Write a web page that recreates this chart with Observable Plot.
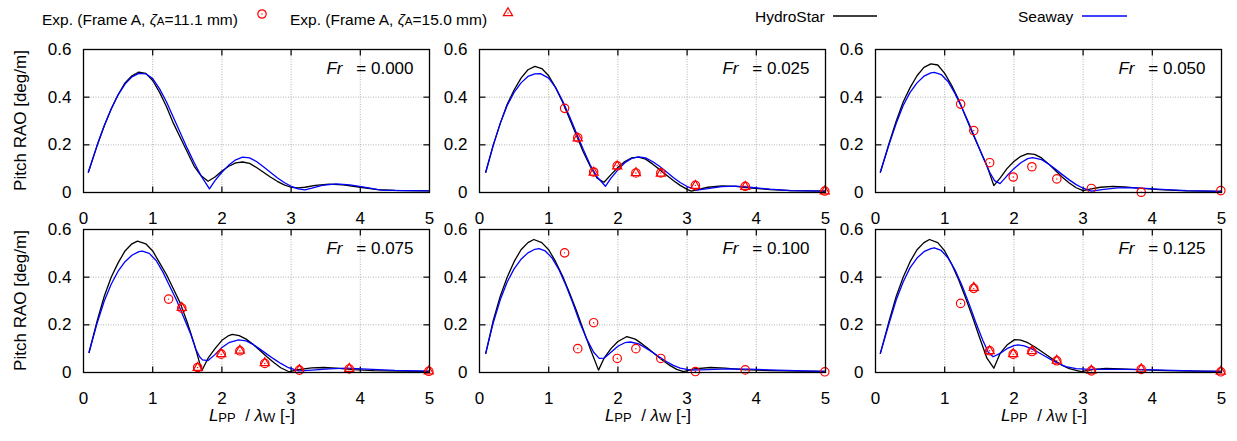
<!DOCTYPE html>
<html><head><meta charset="utf-8">
<script src="https://cdn.jsdelivr.net/npm/d3@7"></script>
<script src="https://cdn.jsdelivr.net/npm/@observablehq/plot@0.6"></script>
<style>
body{margin:0;background:#fff;}
#wrap{position:relative;width:1237px;height:441px;background:#fff;}
#legend{position:absolute;left:0;top:0;}
#chart{position:absolute;left:0;top:35px;}
</style></head>
<body><div id="wrap"><div id="legend"></div><div id="chart"></div></div>
<script>
const FONT = '"Liberation Sans", Arial, sans-serif';
const frNumbers = ["0.000","0.025","0.050","0.075","0.100","0.125"];
const seriesNames = ["HydroStar","Seaway"];
const seriesColors = ["#000000","#0000ff"];
const expNames = ["11.1","15.0"];
const xTicks = [0,1,2,3,4,5];
const yTicks = [0,0.2,0.4,0.6];
const gridXTicks = [1,2,3,4];
const gridYTicks = [0.2,0.4];
const yTitle = "Pitch RAO [deg/m]";

// HydroStar pitch RAO, [Lpp/lambda, deg/m]
const hydroStar000 = [[0.07,0.085],[0.2,0.2],[0.3,0.28],[0.4,0.35],[0.5,0.41],[0.6,0.46],[0.7,0.49],[0.8,0.505],[0.9,0.5],[1.0,0.47],[1.1,0.42],[1.2,0.36],[1.3,0.29],[1.4,0.23],[1.5,0.17],[1.6,0.11],[1.7,0.07],[1.8,0.047],[1.9,0.065],[2.0,0.09],[2.1,0.11],[2.2,0.124],[2.3,0.128],[2.4,0.122],[2.5,0.105],[2.6,0.085],[2.7,0.065],[2.8,0.047],[2.9,0.032],[3.0,0.022],[3.1,0.019],[3.2,0.022],[3.35,0.03],[3.55,0.035],[3.75,0.032],[4.0,0.022],[4.25,0.012],[4.5,0.009],[4.75,0.008],[5.0,0.007]];
const hydroStar025 = [[0.09,0.085],[0.2,0.2],[0.3,0.29],[0.4,0.37],[0.5,0.43],[0.6,0.48],[0.7,0.515],[0.8,0.529],[0.9,0.52],[1.0,0.49],[1.1,0.44],[1.2,0.38],[1.3,0.31],[1.4,0.24],[1.5,0.17],[1.6,0.11],[1.7,0.06],[1.8,0.043],[1.9,0.075],[2.0,0.105],[2.1,0.13],[2.2,0.145],[2.3,0.148],[2.4,0.14],[2.5,0.12],[2.6,0.097],[2.7,0.073],[2.8,0.05],[2.9,0.03],[3.0,0.013],[3.06,0.006],[3.15,0.012],[3.3,0.022],[3.5,0.028],[3.7,0.026],[3.9,0.02],[4.2,0.012],[4.5,0.008],[5.0,0.006]];
const hydroStar050 = [[0.07,0.085],[0.2,0.21],[0.3,0.3],[0.4,0.38],[0.5,0.44],[0.6,0.49],[0.7,0.525],[0.8,0.54],[0.9,0.535],[1.0,0.5],[1.1,0.45],[1.2,0.39],[1.3,0.32],[1.4,0.25],[1.5,0.185],[1.6,0.12],[1.71,0.029],[1.8,0.06],[1.9,0.1],[2.0,0.13],[2.1,0.152],[2.2,0.163],[2.3,0.16],[2.4,0.145],[2.5,0.12],[2.6,0.092],[2.7,0.064],[2.8,0.04],[2.9,0.02],[3.0,0.008],[3.1,0.014],[3.25,0.022],[3.43,0.026],[3.6,0.024],[3.8,0.018],[4.1,0.012],[4.5,0.007],[5.0,0.005]];
const hydroStar075 = [[0.08,0.084],[0.2,0.22],[0.3,0.32],[0.4,0.4],[0.5,0.46],[0.6,0.51],[0.7,0.54],[0.78,0.551],[0.9,0.54],[1.0,0.51],[1.1,0.46],[1.2,0.41],[1.3,0.35],[1.4,0.29],[1.5,0.21],[1.6,0.12],[1.71,0.007],[1.8,0.06],[1.9,0.1],[2.0,0.135],[2.1,0.155],[2.15,0.16],[2.25,0.155],[2.35,0.14],[2.45,0.118],[2.55,0.092],[2.65,0.066],[2.75,0.042],[2.85,0.02],[2.97,0.003],[3.1,0.012],[3.3,0.019],[3.47,0.021],[3.65,0.018],[3.9,0.012],[4.2,0.008],[4.6,0.006],[5.0,0.005]];
const hydroStar100 = [[0.09,0.08],[0.2,0.22],[0.3,0.32],[0.4,0.4],[0.5,0.465],[0.6,0.515],[0.7,0.545],[0.785,0.558],[0.9,0.545],[1.0,0.515],[1.1,0.465],[1.2,0.405],[1.3,0.335],[1.4,0.26],[1.5,0.18],[1.6,0.1],[1.72,0.01],[1.8,0.06],[1.9,0.1],[2.0,0.13],[2.13,0.151],[2.25,0.14],[2.35,0.12],[2.45,0.097],[2.55,0.073],[2.65,0.05],[2.75,0.03],[2.85,0.013],[2.95,0.004],[3.1,0.015],[3.34,0.021],[3.55,0.018],[3.8,0.012],[4.2,0.008],[4.6,0.006],[5.0,0.005]];
const hydroStar125 = [[0.07,0.08],[0.2,0.22],[0.3,0.32],[0.4,0.4],[0.5,0.465],[0.6,0.515],[0.7,0.545],[0.78,0.558],[0.9,0.545],[1.0,0.51],[1.1,0.455],[1.2,0.39],[1.3,0.315],[1.4,0.235],[1.5,0.15],[1.61,0.06],[1.71,0.018],[1.8,0.08],[1.9,0.115],[2.01,0.138],[2.1,0.136],[2.2,0.125],[2.3,0.108],[2.4,0.088],[2.5,0.068],[2.6,0.048],[2.7,0.03],[2.8,0.016],[2.97,0.004],[3.15,0.013],[3.33,0.017],[3.55,0.015],[3.8,0.012],[4.2,0.008],[4.6,0.006],[5.0,0.005]];

// Seaway pitch RAO
const seaway000 = [[0.07,0.085],[0.2,0.2],[0.3,0.28],[0.4,0.35],[0.5,0.41],[0.6,0.455],[0.7,0.485],[0.8,0.5],[0.9,0.498],[1.0,0.478],[1.1,0.435],[1.2,0.38],[1.3,0.315],[1.4,0.25],[1.5,0.185],[1.6,0.125],[1.7,0.07],[1.82,0.015],[1.9,0.05],[2.0,0.085],[2.1,0.115],[2.2,0.137],[2.3,0.148],[2.4,0.145],[2.5,0.13],[2.6,0.108],[2.7,0.085],[2.8,0.062],[2.9,0.042],[3.0,0.026],[3.1,0.015],[3.2,0.011],[3.3,0.018],[3.45,0.03],[3.65,0.036],[3.85,0.032],[4.1,0.02],[4.3,0.01],[4.6,0.008],[5.0,0.007]];
const seaway025 = [[0.09,0.085],[0.2,0.2],[0.3,0.29],[0.4,0.365],[0.5,0.42],[0.6,0.46],[0.7,0.487],[0.8,0.498],[0.88,0.499],[1.0,0.48],[1.1,0.44],[1.2,0.385],[1.3,0.32],[1.4,0.25],[1.5,0.18],[1.6,0.115],[1.7,0.065],[1.82,0.026],[1.9,0.06],[2.0,0.095],[2.1,0.125],[2.2,0.143],[2.3,0.149],[2.4,0.145],[2.5,0.13],[2.6,0.11],[2.7,0.087],[2.8,0.063],[2.9,0.042],[3.0,0.025],[3.14,0.01],[3.3,0.016],[3.5,0.025],[3.7,0.027],[3.9,0.022],[4.2,0.014],[4.5,0.008],[5.0,0.006]];
const seaway050 = [[0.07,0.085],[0.2,0.205],[0.3,0.29],[0.4,0.365],[0.5,0.42],[0.6,0.46],[0.7,0.488],[0.8,0.502],[0.85,0.504],[0.95,0.495],[1.05,0.465],[1.15,0.415],[1.25,0.355],[1.35,0.29],[1.45,0.22],[1.55,0.15],[1.65,0.085],[1.72,0.05],[1.8,0.0375],[1.9,0.07],[2.0,0.1],[2.1,0.125],[2.2,0.142],[2.27,0.146],[2.4,0.138],[2.5,0.12],[2.6,0.098],[2.7,0.075],[2.8,0.053],[2.9,0.033],[3.0,0.018],[3.12,0.006],[3.3,0.013],[3.5,0.019],[3.7,0.02],[3.9,0.017],[4.2,0.012],[4.5,0.008],[5.0,0.005]];
const seaway075 = [[0.08,0.084],[0.2,0.21],[0.3,0.3],[0.4,0.37],[0.5,0.425],[0.6,0.465],[0.7,0.492],[0.8,0.507],[0.85,0.509],[0.95,0.5],[1.05,0.47],[1.15,0.42],[1.25,0.36],[1.35,0.3],[1.45,0.23],[1.55,0.16],[1.62,0.1],[1.68,0.065],[1.72,0.053],[1.8,0.05],[1.9,0.075],[2.0,0.105],[2.1,0.125],[2.24,0.137],[2.35,0.133],[2.45,0.118],[2.55,0.098],[2.65,0.077],[2.75,0.057],[2.85,0.038],[2.95,0.022],[3.11,0.007],[3.3,0.01],[3.55,0.015],[3.8,0.018],[4.1,0.014],[4.5,0.009],[5.0,0.006]];
const seaway100 = [[0.09,0.08],[0.2,0.21],[0.3,0.305],[0.4,0.38],[0.5,0.435],[0.6,0.475],[0.7,0.502],[0.8,0.517],[0.86,0.52],[0.95,0.51],[1.05,0.48],[1.15,0.43],[1.25,0.365],[1.35,0.29],[1.45,0.21],[1.55,0.14],[1.65,0.085],[1.73,0.059],[1.8,0.06],[1.9,0.085],[2.0,0.11],[2.1,0.125],[2.18,0.128],[2.3,0.12],[2.4,0.103],[2.5,0.085],[2.6,0.065],[2.7,0.046],[2.8,0.03],[2.9,0.018],[3.05,0.01],[3.3,0.012],[3.6,0.015],[3.9,0.014],[4.3,0.01],[4.7,0.007],[5.0,0.005]];
const seaway125 = [[0.07,0.08],[0.2,0.21],[0.3,0.305],[0.4,0.38],[0.5,0.44],[0.6,0.48],[0.7,0.507],[0.8,0.52],[0.85,0.523],[0.95,0.512],[1.05,0.48],[1.15,0.43],[1.25,0.365],[1.35,0.29],[1.45,0.21],[1.55,0.135],[1.63,0.085],[1.7,0.066],[1.8,0.08],[1.9,0.1],[2.0,0.113],[2.06,0.116],[2.15,0.112],[2.25,0.1],[2.35,0.085],[2.45,0.068],[2.55,0.052],[2.65,0.037],[2.75,0.025],[2.9,0.016],[3.09,0.013],[3.3,0.013],[3.6,0.013],[3.9,0.012],[4.3,0.009],[4.7,0.006],[5.0,0.005]];

// Experiments (Frame A), x positions shared
const expX = [1.23,1.42,1.65,1.99,2.26,2.62,3.12,3.84,4.99];
const exp111_025 = [0.353,0.23,0.086,0.112,0.082,0.082,0.03,0.026,0.006];
const exp111_050 = [0.371,0.26,0.125,0.065,0.108,0.057,0.017,0.001,0.008];
const exp111_075 = [0.308,0.27,0.021,0.077,0.091,0.038,0.01,0.015,0.005];
const exp111_100 = [0.502,0.10,0.209,0.059,0.10,0.059,0.004,0.011,0.003];
const exp111_125 = [0.29,0.353,0.091,0.077,0.088,0.049,0.007,0.013,0.003];
const exp150_025 = [null,0.228,0.084,0.11,0.082,0.08,0.028,0.024,0.005];
const exp150_075 = [null,0.272,0.02,0.078,0.092,0.04,0.011,0.016,0.005];
const exp150_125 = [null,0.356,0.09,0.078,0.09,0.05,0.008,0.014,0.004];

const hsAll = [hydroStar000,hydroStar025,hydroStar050,hydroStar075,hydroStar100,hydroStar125];
const swAll = [seaway000,seaway025,seaway050,seaway075,seaway100,seaway125];
const e111All = [null,exp111_025,exp111_050,exp111_075,exp111_100,exp111_125];
const e150All = [null,exp150_025,null,exp150_075,null,exp150_125];

const hsRows = [], swRows = [], cRows = [], tRows = [], frRows = [];
frNumbers.forEach((fr, i) => {
  const col = i % 3, row = Math.floor(i / 3);
  frRows.push({fr, col, row});
  hsAll[i].forEach(([x, y]) => hsRows.push({x, y, col, row}));
  swAll[i].forEach(([x, y]) => swRows.push({x, y, col, row}));
  if (e111All[i]) e111All[i].forEach((y, j) => { if (y != null) cRows.push({x: expX[j], y, col, row}); });
  if (e150All[i]) e150All[i].forEach((y, j) => { if (y != null) tRows.push({x: expX[j], y, col, row}); });
});

const W = 1237, H = 406;
const mL = 83, mR = 16, mT = 14, mB = 68;
const colGap = 50, rowGap = 37;
const bandW = (W - mL - mR - 2 * colGap) / 3;
const bandH = (H - mT - mB - rowGap) / 2;
const tickPx = 6;
const tx = tickPx * 5 / bandW, ty = tickPx * 0.6 / bandH;
const CIRCLE_R = 4.2, TRI_R = 3.4;

const tickRows = [];
gridXTicks.forEach(v => { tickRows.push({x1: v, x2: v, y1: 0, y2: ty}); tickRows.push({x1: v, x2: v, y1: 0.6 - ty, y2: 0.6}); });
gridYTicks.forEach(v => { tickRows.push({x1: 0, x2: tx, y1: v, y2: v}); tickRows.push({x1: 5 - tx, x2: 5, y1: v, y2: v}); });

const plot = Plot.plot({
  width: W, height: H,
  marginLeft: mL, marginRight: mR, marginTop: mT, marginBottom: mB,
  style: {fontFamily: FONT, fontSize: "17px", color: "black", background: "white"},
  fx: {domain: [0,1,2], paddingInner: colGap / (bandW + colGap), paddingOuter: 0, axis: null, label: null},
  fy: {domain: [0,1], paddingInner: rowGap / (bandH + rowGap), paddingOuter: 0, axis: null, label: null},
  x: {domain: [0,5], axis: null},
  y: {domain: [0,0.6], axis: null},
  marks: [
    Plot.gridX(gridXTicks, {stroke: "#a0a0a0", strokeOpacity: 1, strokeWidth: 0.8, strokeDasharray: "1,1.5"}),
    Plot.gridY(gridYTicks, {stroke: "#a0a0a0", strokeOpacity: 1, strokeWidth: 0.8, strokeDasharray: "1,1.5"}),
    Plot.link(tickRows, {x1: "x1", x2: "x2", y1: "y1", y2: "y2", stroke: "black", strokeWidth: 1.2}),
    Plot.line(hsRows, {x: "x", y: "y", fx: "col", fy: "row", stroke: seriesColors[0], strokeWidth: 1.3}),
    Plot.line(swRows, {x: "x", y: "y", fx: "col", fy: "row", stroke: seriesColors[1], strokeWidth: 1.3}),
    Plot.dot(cRows, {x: "x", y: "y", fx: "col", fy: "row", r: CIRCLE_R, stroke: "#ff0000", strokeWidth: 1.2, fill: "none"}),
    Plot.dot(tRows, {x: "x", y: "y", fx: "col", fy: "row", r: TRI_R, symbol: "triangle", stroke: "#ff0000", strokeWidth: 1.2, fill: "none"}),
    Plot.dot(cRows, {x: "x", y: "y", fx: "col", fy: "row", r: 0.7, fill: "#ff0000", stroke: "none"}),
    Plot.frame({stroke: "black", strokeWidth: 1.3}),
    Plot.text(frRows, {fx: "col", fy: "row", text: () => "Fr", frameAnchor: "top-right", dx: -87, dy: 19, textAnchor: "end", lineAnchor: "middle", fontStyle: "italic", fontSize: 17}),
    Plot.text(frRows, {fx: "col", fy: "row", text: d => "= " + d.fr, frameAnchor: "top-right", dx: -16, dy: 19, textAnchor: "end", lineAnchor: "middle", fontSize: 17}),
    Plot.axisX({ticks: xTicks, facetAnchor: null, tickSize: 0, tickPadding: 19, label: null, fontSize: 17, tickFormat: d => String(d)}),
    Plot.axisY({ticks: yTicks, facetAnchor: null, tickSize: 0, tickPadding: 12, label: null, fontSize: 17, tickFormat: d => d === 0 ? "0" : d.toFixed(1)})
  ]
});
document.getElementById("chart").appendChild(plot);

const fxs = plot.scale("fx"), fys = plot.scale("fy");
const svg = d3.select(plot);

// y-axis titles, left of each row
[0,1].forEach(r => {
  const cy = fys.apply(r) + fys.bandwidth / 2;
  svg.append("text").attr("transform", `translate(20,${cy}) rotate(-90)`)
    .attr("text-anchor", "middle").attr("dy", "0.35em")
    .style("font-family", FONT).style("font-size", "17px").attr("fill", "black").text(yTitle);
});

// x-axis titles under bottom row (with italic symbols and subscripts)
[0,1,2].forEach(c => {
  const cx = fxs.apply(c) + fxs.bandwidth / 2 - 4;
  const t = svg.append("text").attr("x", cx).attr("y", H - 20).attr("text-anchor", "middle")
    .style("font-family", FONT).style("font-size", "17px").attr("fill", "black");
  t.append("tspan").attr("font-style", "italic").text("L");
  t.append("tspan").attr("font-size", "13px").attr("dy", 1).text("PP");
  t.append("tspan").attr("dy", -1).text("\u00a0\u00a0/\u00a0");
  t.append("tspan").attr("font-style", "italic").text("\u03bb");
  t.append("tspan").attr("font-size", "13px").attr("dy", 1).text("W");
  t.append("tspan").attr("dy", -1).text("\u00a0[-]");
});

// legend
const leg = d3.select("#legend").append("svg").attr("width", W).attr("height", 35)
  .style("font-family", FONT).style("font-size", "15.5px");
const expLeg = [{x: 42, mx: 262, my: 14, sym: "circle", r: CIRCLE_R}, {x: 290, mx: 508, my: 13, sym: "triangle", r: TRI_R}];
expNames.forEach((v, i) => {
  const L = expLeg[i];
  const t = leg.append("text").attr("x", L.x).attr("y", 25);
  t.append("tspan").text("Exp. (Frame A, ");
  t.append("tspan").attr("font-style", "italic").text("\u03b6");
  t.append("tspan").attr("font-size", "11.5px").text("A");
  t.append("tspan").text("=" + v + " mm)");
  const sym = L.sym === "circle" ? d3.symbolCircle : d3.symbolTriangle;
  leg.append("path").attr("transform", `translate(${L.mx},${L.my})`)
    .attr("d", d3.symbol(sym, Math.PI * L.r * L.r)()).attr("fill", "none").attr("stroke", "#ff0000").attr("stroke-width", 1.2);
  leg.append("circle").attr("cx", L.mx).attr("cy", L.my).attr("r", 0.7).attr("fill", "#ff0000");
});
const serLeg = [{x: 755, l1: 833, l2: 877}, {x: 1018, l1: 1082, l2: 1127}];
seriesNames.forEach((n, i) => {
  const L = serLeg[i];
  leg.append("text").attr("x", L.x).attr("y", 22).text(n);
  leg.append("line").attr("x1", L.l1).attr("x2", L.l2).attr("y1", 16).attr("y2", 16)
    .attr("stroke", seriesColors[i]).attr("stroke-width", 1.3);
});
</script>
</body></html>
